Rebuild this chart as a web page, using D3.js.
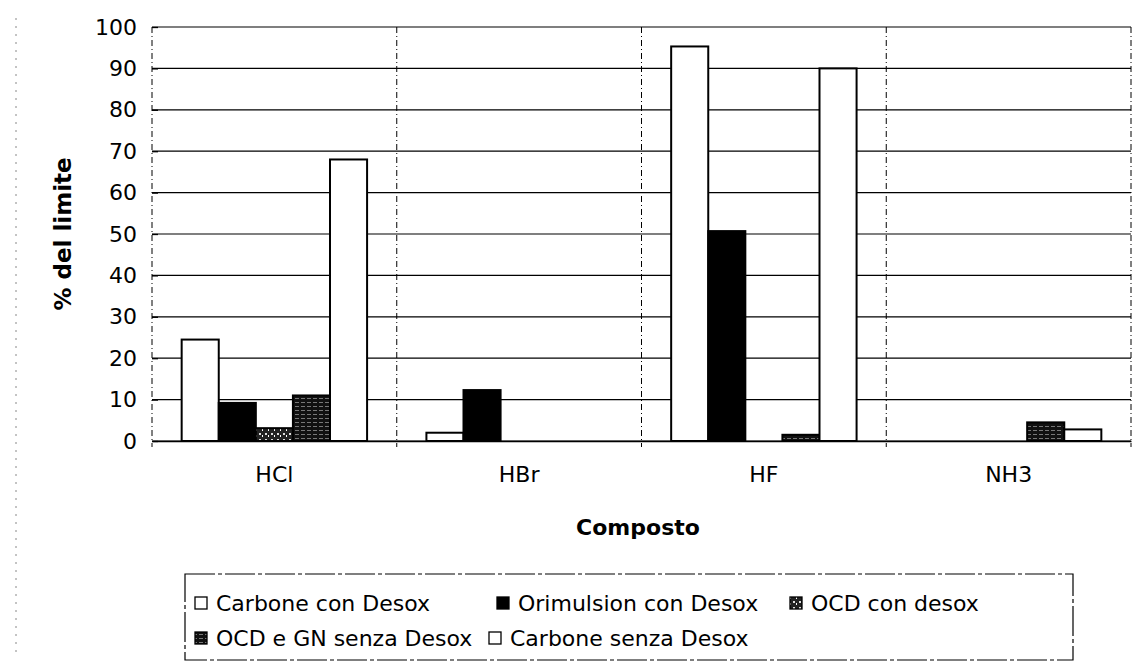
<!DOCTYPE html>
<html>
<head>
<meta charset="utf-8">
<script src="https://cdn.jsdelivr.net/npm/d3@7"></script>
<style>
  body { margin: 0; background: #fff; }
  svg text { font-family: "DejaVu Sans", Verdana, sans-serif; }
</style>
</head>
<body>
<div id="chart"></div>
<script>
// values
const categories = ["HCl", "HBr", "HF", "NH3"];
const seriesNames = ["Carbone con Desox", "Orimulsion con Desox", "OCD con desox",
                     "OCD e GN senza Desox", "Carbone senza Desox"];
const carboneCon   = [24.5, 2, 95.3, 0];
const orimulsion   = [9.2, 12.3, 50.7, 0];
const ocdCon       = [3.1, 0, 0, 0];
const ocdGn        = [11, 0, 1.5, 4.5];
const carboneSenza = [68, 0, 90, 2.8];
const yTicks = [0, 10, 20, 30, 40, 50, 60, 70, 80, 90, 100];

const seriesValues = [carboneCon, orimulsion, ocdCon, ocdGn, carboneSenza];
const fills = ["#fff", "#000", "url(#patA)", "url(#patB)", "#fff"];

const W = 1137, H = 664;
const pLeft = 152, pRight = 1131, pTop = 27, pBottom = 441;

const svg = d3.select("#chart").append("svg")
  .attr("width", W).attr("height", H);

// patterns for the two OCD series
const defs = svg.append("defs");
const pa = defs.append("pattern").attr("id", "patA")
  .attr("width", 6).attr("height", 6).attr("patternUnits", "userSpaceOnUse");
pa.append("rect").attr("width", 6).attr("height", 6).attr("fill", "#222");
pa.append("rect").attr("x", 1).attr("y", 1).attr("width", 2).attr("height", 2).attr("fill", "#ddd");
pa.append("rect").attr("x", 4).attr("y", 3).attr("width", 1).attr("height", 2).attr("fill", "#fff");
const pb = defs.append("pattern").attr("id", "patB")
  .attr("width", 6).attr("height", 4).attr("patternUnits", "userSpaceOnUse");
pb.append("rect").attr("width", 6).attr("height", 4).attr("fill", "#111");
pb.append("rect").attr("x", 1).attr("y", 2).attr("width", 4).attr("height", 1).attr("fill", "#777");

// scan artifact on the left edge
svg.append("line").attr("x1", 16).attr("x2", 16).attr("y1", 18).attr("y2", 655)
  .attr("stroke", "#888").attr("stroke-dasharray", "2,6");

const x0 = d3.scaleBand().domain(categories).range([pLeft, pRight]);
const x1 = d3.scaleBand().domain(seriesNames).range([0, x0.bandwidth()]).paddingOuter(0.8);
const y = d3.scaleLinear().domain([0, 100]).range([pBottom, pTop]);

// horizontal gridlines
svg.append("g").selectAll("line").data(yTicks).join("line")
  .attr("x1", pLeft).attr("x2", pRight)
  .attr("y1", d => y(d)).attr("y2", d => y(d))
  .attr("stroke", "#000").attr("stroke-width", 1.2);

// vertical category separators (dashed)
const seps = categories.map(c => x0(c)).concat([pRight]);
svg.append("g").selectAll("line").data(seps).join("line")
  .attr("x1", d => d).attr("x2", d => d)
  .attr("y1", pTop).attr("y2", pBottom + 6)
  .attr("stroke", "#000").attr("stroke-width", 1)
  .attr("stroke-dasharray", "6,3,1,3");

// bars
const rows = [];
categories.forEach((c, i) => {
  seriesNames.forEach((s, j) => rows.push({ cat: c, ser: s, j: j, v: seriesValues[j][i] }));
});
svg.append("g").selectAll("rect").data(rows.filter(d => d.v > 0)).join("rect")
  .attr("x", d => x0(d.cat) + x1(d.ser))
  .attr("y", d => y(d.v))
  .attr("width", x1.bandwidth())
  .attr("height", d => y(0) - y(d.v))
  .attr("fill", d => fills[d.j])
  .attr("stroke", "#000").attr("stroke-width", 2);

// y axis
const yAxis = svg.append("g")
  .attr("transform", "translate(" + pLeft + ",0)")
  .call(d3.axisLeft(y).tickValues(yTicks).tickSize(7).tickPadding(8));
yAxis.attr("font-family", null);
yAxis.select(".domain").remove();
yAxis.selectAll(".tick line").attr("x2", 6).attr("stroke-width", 1.3);
yAxis.selectAll("text").style("font-size", "22px").attr("fill", "#000");

// x axis
const xAxis = svg.append("g")
  .attr("transform", "translate(0," + pBottom + ")")
  .call(d3.axisBottom(x0).tickSize(0).tickPadding(25));
xAxis.attr("font-family", null);
xAxis.select(".domain").attr("stroke-width", 1.5);
xAxis.selectAll("text").style("font-size", "22px").attr("fill", "#000");

// axis titles
svg.append("text").attr("x", 638).attr("y", 535)
  .attr("text-anchor", "middle").style("font-size", "22px").style("font-weight", "bold")
  .text("Composto");
svg.append("text")
  .attr("transform", "translate(71," + ((pTop + pBottom) / 2) + ") rotate(-90)")
  .attr("text-anchor", "middle").style("font-size", "23px").style("font-weight", "bold")
  .text("% del limite");

// legend
const lg = svg.append("g");
lg.append("rect").attr("x", 185).attr("y", 574).attr("width", 888).attr("height", 86)
  .attr("fill", "none").attr("stroke", "#000").attr("stroke-width", 1.2)
  .attr("stroke-dasharray", "30,3,4,3");
const legPos = [[195, 603], [497, 603], [790, 603], [195, 638], [489, 638]];
seriesNames.forEach((s, j) => {
  const [lx, ly] = legPos[j];
  lg.append("rect").attr("x", lx).attr("y", ly - 6).attr("width", 12).attr("height", 12)
    .attr("fill", fills[j]).attr("stroke", "#000").attr("stroke-width", 1.3);
  lg.append("text").attr("x", lx + 21).attr("y", ly + 8)
    .style("font-size", "22px").text(s);
});
</script>
</body>
</html>
